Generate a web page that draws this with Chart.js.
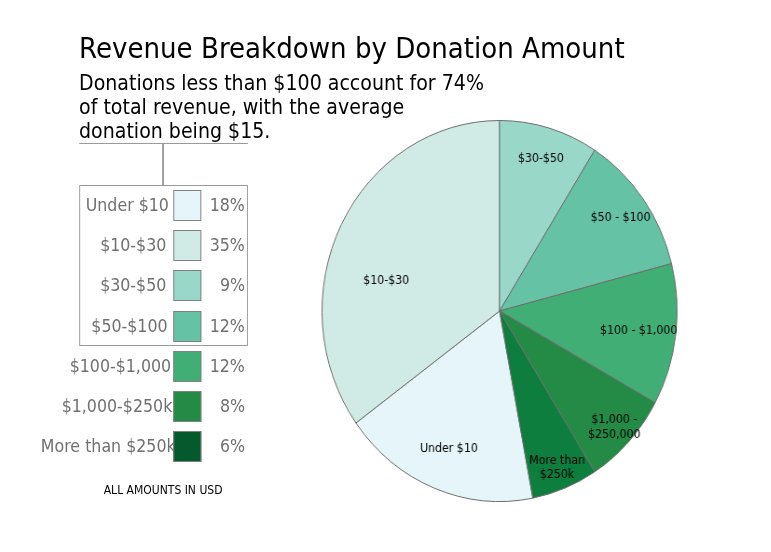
<!DOCTYPE html>
<html>
<head>
<meta charset="utf-8">
<script src="https://cdn.jsdelivr.net/npm/chart.js@4.4.1/dist/chart.umd.min.js"></script>
<style>
  body { margin: 0; background: #fff; overflow: hidden; width: 771px; height: 552px; }
  #page { position: absolute; left: 0; top: 0; width: 828px; height: 552px;
          transform: scaleX(0.932); transform-origin: 0 0; font-family: 'DejaVu Sans', sans-serif; }
  .abs { position: absolute; white-space: nowrap; }
  #title { left: 84.8px; top: 33px; font-size: 28px; line-height: 32px; color: #000; }
  #subtitle { left: 84.8px; top: 70.5px; font-size: 20.4px; line-height: 24.4px; color: #000; }
  .rule { position: absolute; background: #9a9a9a; }
  #legendBox { position: absolute; left: 84.8px; top: 185px; width: 179px; height: 159px; border: 1.5px solid #9a9a9a; }
  .lgLabel, .lgPct { position: absolute; font-size: 17px; line-height: 30px; color: #707070; white-space: nowrap; }
  .swatch { position: absolute; width: 28px; height: 29px; border: 1px solid #808080; box-sizing: content-box; }
  #note { left: 175px; top: 483px; font-size: 11.6px; transform: translateX(-50%); color: #000; }
  #pie { position: absolute; left: 345px; top: 120px; }
</style>
</head>
<body>
<div id="page">
  <div id="title" class="abs">Revenue Breakdown by Donation Amount</div>
  <div id="subtitle" class="abs">Donations less than $100 account for 74%<br>of total revenue, with the average<br>donation being $15.</div>
  <div class="rule" style="left:84.8px; top:142.5px; width:181px; height:1.5px;"></div>
  <div class="rule" style="left:174.2px; top:142.5px; width:1.5px; height:43px;"></div>
  <div id="legendBox"></div>
  <div id="legend"></div>
  <div id="note" class="abs">ALL AMOUNTS IN USD</div>
  <canvas id="pie" width="382" height="382"></canvas>
</div>
<script>
// data, in legend order
var categories = ['Under $10', '$10-$30', '$30-$50', '$50-$100', '$100-$1,000', '$1,000-$250k', 'More than $250k'];
var shares = [18, 35, 9, 12, 12, 8, 6];
var sliceLabels = ['Under $10', '$10-$30', '$30-$50', '$50 - $100', '$100 - $1,000', '$1,000 -\n$250,000', 'More than\n$250k'];

// styling
var pieColors = ['#e5f5f9', '#d0ebe5', '#99d8c9', '#66c2a4', '#41ae76', '#238b45', '#0d7e3d'];
var swatchColors = ['#e5f5f9', '#d0ebe5', '#99d8c9', '#66c2a4', '#41ae76', '#238b45', '#04592d'];
var labelDist = [0.775, 0.66, 0.836, 0.843, 0.79, 0.886, 0.88];
var labelTurn = [0, -12.5, 0, 0, 0, 0, 0]; // degrees

//build the legend on the left
function buildLegend() {
    let legend = document.getElementById('legend');
    for (let i = 0; i < categories.length; i++) {
        let cy = 205 + i * 40.2;
        let lab = document.createElement('div');
        lab.className = 'lgLabel';
        lab.textContent = categories[i];
        lab.style.top = (cy - 15) + 'px';
        legend.appendChild(lab);
        let w = lab.offsetWidth;
        lab.style.left = (168.5 - 0.86 * w) + 'px';

        let sw = document.createElement('div');
        sw.className = 'swatch';
        sw.style.left = '185.6px';
        sw.style.top = (cy - 15) + 'px';
        sw.style.background = swatchColors[i];
        legend.appendChild(sw);

        let pct = document.createElement('div');
        pct.className = 'lgPct';
        pct.textContent = shares[i] + '%';
        pct.style.top = (cy - 15) + 'px';
        legend.appendChild(pct);
        pct.style.left = (263 - pct.offsetWidth) + 'px';
    }
}

//labels drawn inside the slices
const sliceLabelPlugin = {
    id: 'sliceLabels',
    afterDatasetsDraw(chart) {
        const ctx = chart.ctx;
        const meta = chart.getDatasetMeta(0);
        ctx.save();
        ctx.font = '11.8px "DejaVu Sans"';
        ctx.fillStyle = '#000';
        ctx.textAlign = 'center';
        ctx.textBaseline = 'middle';
        meta.data.forEach(function(arc, i) {
            const p = arc.getProps(['x', 'y', 'startAngle', 'endAngle', 'outerRadius'], true);
            const mid = (p.startAngle + p.endAngle) / 2 + labelTurn[i] * Math.PI / 180;
            const r = p.outerRadius * labelDist[i];
            const lx = p.x + Math.cos(mid) * r;
            const ly = p.y + Math.sin(mid) * r + 1;
            const lines = sliceLabels[i].split('\n');
            lines.forEach(function(line, j) {
                ctx.fillText(line, lx, ly + (j - (lines.length - 1) / 2) * 14.5);
            });
        });
        ctx.restore();
    }
};

buildLegend();

// pie starts at 12 o'clock with the $30-$50 slice
let startShare = shares[0] + shares[1];
new Chart(document.getElementById('pie'), {
    type: 'pie',
    data: {
        labels: categories,
        datasets: [{
            data: shares,
            backgroundColor: pieColors,
            borderColor: '#6e6e6e',
            borderWidth: 1
        }]
    },
    options: {
        responsive: false,
        animation: false,
        rotation: -startShare / 100 * 360,
        layout: { padding: 0 },
        plugins: {
            legend: { display: false },
            tooltip: { enabled: false }
        }
    },
    plugins: [sliceLabelPlugin]
});
</script>
</body>
</html>
